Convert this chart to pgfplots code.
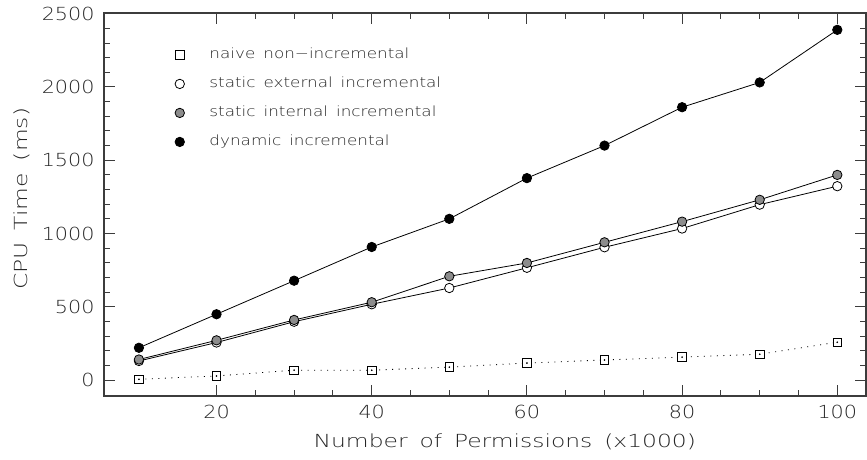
\documentclass[border=0pt]{standalone}
\usepackage{fontspec}
\setmainfont{DejaVu Sans ExtraLight}[FakeStretch=1.3, WordSpace=1.6]
\newfontfamily\tickfont{DejaVu Sans ExtraLight}[FakeStretch=1.15]
\newfontfamily\legfont{DejaVu Sans ExtraLight}[FakeStretch=1.2, WordSpace=1.5]
\usepackage{pgfplots}
\pgfplotsset{compat=1.18}
\definecolor{midgray}{RGB}{140,140,140}
\definecolor{axgray}{RGB}{60,60,60}

\pgfplotstableread{
x y
10 5
20 28
30 67
40 67
50 88
60 116
70 137
80 156
90 176
100 258
}\naive
\pgfplotstableread{
x y
10 130
20 256
30 398
40 517
50 628
60 766
70 906
80 1034
90 1197
100 1323
}\statext
\pgfplotstableread{
x y
10 140
20 271
30 410
40 531
50 708
60 799
70 940
80 1081
90 1230
100 1400
}\statint
\pgfplotstableread{
x y
10 220
20 449
30 678
40 908
50 1100
60 1378
70 1600
80 1862
90 2031
100 2390
}\dyn

\begin{document}
\begin{tikzpicture}[font=\fontsize{18}{21}\selectfont]
\begin{axis}[name=ax, scale only axis, width=762pt, height=383pt,
  xmin=5.5, xmax=103.7, ymin=-109, ymax=2505,
  xtick={20,40,60,80,100}, minor x tick num=3,
  ytick={0,500,...,2500}, minor y tick num=4,
  tick align=inside, major tick length=11pt, minor tick length=6pt,
  axis line style={line width=1.4pt, axgray},
  every tick/.style={line width=1pt, axgray},
  /pgf/number format/assume math mode=true,
  /pgf/number format/1000 sep={},
  scaled ticks=false,
  tick label style={font=\tickfont\fontsize{18}{21}\selectfont},
  xticklabel style={yshift=-6pt, text=black!85},
  yticklabel style={xshift=-6pt, text=black!85},
  xlabel={Number of Permissions (x1000)},
  ylabel={CPU Time (ms)},
  xlabel style={at={(axis description cs:0.526,0)}, anchor=base, yshift=-51pt, text=black!85},
  ylabel style={at={(axis description cs:-0.1005,0.515)}, anchor=base, text=black!85},
  legend image code/.code={\draw[#1,only marks] plot coordinates {(0pt,0pt)};},
  legend cell align=left,
  legend style={at={(axis description cs:0.093,0.908)}, anchor=north west,
    draw=none, fill=none, inner sep=0pt, row sep=16pt, column sep=4pt,
    font=\legfont\fontsize{14}{17}\selectfont,
    nodes={inner sep=0pt, text height=10pt, text depth=3pt, text=black!85}},
  clip=false,
]
\addplot[black, line width=0.8pt, dash pattern=on 1pt off 5.5pt, mark=square*, mark size=4.3pt,
  mark options={solid, fill=white, draw=black, line width=0.8pt}] table {\naive};
\addlegendentry{\hspace{21pt}naive non−incremental}
\addplot[black, line width=0.8pt, mark=*, mark size=4.7pt,
  mark options={fill=white, draw=black, line width=0.8pt}] table {\statext};
\addlegendentry{\hspace{21pt}static external incremental}
\addplot[black, line width=0.8pt, mark=*, mark size=4.7pt,
  mark options={fill=midgray, draw=black, line width=0.8pt}] table {\statint};
\addlegendentry{\hspace{21pt}static internal incremental}
\addplot[black, line width=0.8pt, mark=*, mark size=4.7pt,
  mark options={fill=black, draw=black, line width=0.8pt}] table {\dyn};
\addlegendentry{\hspace{21pt}dynamic incremental}
\addplot[only marks, mark=*, mark size=0.6pt, black, forget plot] table {\naive};
\end{axis}
\path ([xshift=-104pt,yshift=-64pt]ax.south west) rectangle ([xshift=1pt,yshift=13pt]ax.north east);
\end{tikzpicture}
\end{document}
